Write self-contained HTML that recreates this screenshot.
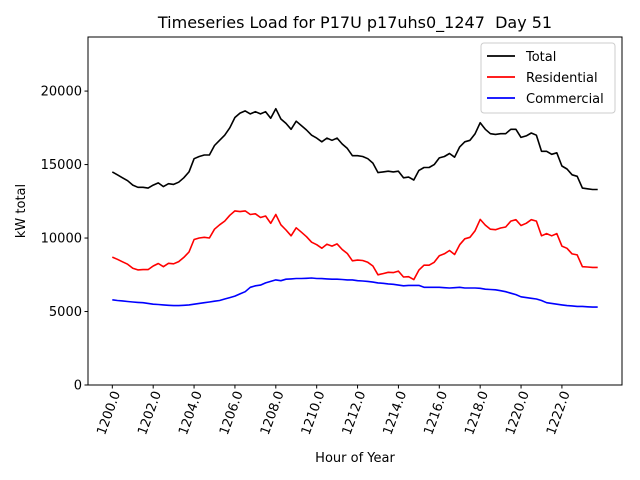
<!DOCTYPE html>
<html><head><meta charset="utf-8"><style>body{margin:0;background:#fff}svg{display:block;font-family:"DejaVu Sans","Liberation Sans",sans-serif}</style></head>
<body>
<svg id="c" width="640" height="480"></svg>
<script>
const hoursStart = 1200, hoursStep = 0.25;
const totalValues = [14500,14300,14100,13900,13600,13450,13450,13400,13600,13750,13500,13700,13650,13800,14100,14500,
15400,15550,15650,15650,16300,16650,17000,17500,18200,18500,18650,18450,18600,18450,18600,18150,
18800,18100,17800,17400,17950,17650,17350,17000,16800,16550,16800,16650,16800,16400,16100,15600,
15600,15550,15400,15100,14450,14500,14550,14500,14550,14100,14150,13950,14600,14800,14800,15000,
15450,15550,15750,15500,16200,16550,16650,17100,17850,17400,17100,17050,17100,17100,17400,17400,
16850,16950,17150,17000,15900,15900,15700,15800,14900,14700,14300,14200,13400,13350,13300,13300];
const residentialValues = [8700,8550,8380,8220,7950,7830,7850,7850,8100,8270,8050,8280,8250,8400,8680,9050,
9900,10000,10050,10000,10600,10900,11150,11550,11850,11800,11850,11600,11650,11400,11500,11000,
11600,10900,10550,10150,10700,10400,10090,9720,9550,9310,9580,9450,9600,9220,8950,8450,
8500,8470,8350,8100,7500,7580,7670,7650,7750,7350,7370,7170,7820,8150,8150,8350,
8800,8930,9150,8880,9550,9950,10050,10500,11270,10880,10600,10570,10680,10750,11150,11250,
10850,11000,11250,11150,10150,10300,10150,10300,9450,9300,8920,8850,8050,8030,8000,8000];
const commercialValues = [5800,5750,5720,5680,5650,5620,5600,5550,5500,5480,5450,5420,5400,5400,5420,5450,
5500,5550,5600,5650,5700,5750,5850,5950,6050,6200,6350,6650,6750,6800,6950,7050,
7150,7100,7200,7220,7250,7250,7260,7280,7250,7240,7220,7200,7200,7180,7150,7150,
7100,7080,7050,7000,6950,6920,6880,6850,6800,6750,6780,6780,6780,6650,6650,6650,
6650,6620,6600,6620,6650,6600,6600,6600,6580,6520,6500,6480,6420,6350,6250,6150,
6000,5950,5900,5850,5750,5600,5550,5500,5450,5400,5380,5350,5350,5320,5300,5300];
const yTicks = [0,5000,10000,15000,20000];
const xTicks = [1200,1202,1204,1206,1208,1210,1212,1214,1216,1218,1220,1222];
const seriesNames = ["Total","Residential","Commercial"];

const L=88,R=622,T=37,B=385, X0=1198.81, X1=1224.94, Y1=23680;
const sx=v=>L+(v-X0)/(X1-X0)*(R-L);
const sy=v=>B-v/Y1*(B-T);
const svg=document.getElementById('c');
const NS='http://www.w3.org/2000/svg';
function mk(tag,attrs,parent){const e=document.createElementNS(NS,tag);for(const k in attrs)e.setAttribute(k,attrs[k]);(parent||svg).appendChild(e);return e;}

const t=mk('text',{x:355,y:28,'text-anchor':'middle','font-size':16,fill:'#000',style:'white-space:pre'});


t.textContent='Timeseries Load for P17U p17uhs0_1247  Day 51';

const colors=['#000','#f00','#00f'];
[totalValues,residentialValues,commercialValues].forEach((vals,si)=>{
  const pts=vals.map((v,i)=>sx(hoursStart+i*hoursStep).toFixed(1)+','+sy(v).toFixed(1)).join(' ');
  const p=mk('polyline',{points:pts,fill:'none',stroke:colors[si],'stroke-width':1.6,'stroke-linejoin':'round'});
  
  
});

const frame=mk('rect',{x:L,y:T,width:R-L,height:B-T,fill:'none',stroke:'#000','stroke-width':1});



yTicks.forEach(v=>{
  const y=sy(v);
  mk('line',{x1:L-3.5,x2:L,y1:y,y2:y,stroke:'#000'});
  const tx=mk('text',{x:L-6,y:y+4.5,'text-anchor':'end','font-size':13});
  
  
  tx.textContent=v;
});
xTicks.forEach(v=>{
  const x=sx(v);
  mk('line',{x1:x,x2:x,y1:B,y2:B+3.5,stroke:'#000'});
  const ax=x+8, ay=B+8;
  const tx=mk('text',{x:ax,y:ay,'text-anchor':'end','font-size':13,transform:`rotate(-70 ${ax} ${ay})`});
  
  
  tx.textContent=v.toFixed(1);
});

const xl=mk('text',{x:355,y:462,'text-anchor':'middle','font-size':13});


xl.textContent='Hour of Year';
const yl=mk('text',{x:25,y:211,'text-anchor':'middle','font-size':13,transform:'rotate(-90 25 211)'});


yl.textContent='kW total';

const lg=mk('g',{});


mk('rect',{x:481,y:43,width:134,height:70,rx:3,fill:'#fff',stroke:'#ccc'},lg);
seriesNames.forEach((n,i)=>{
  const y=56+i*21;
  const e=mk('g',{},lg);
  
  
  mk('line',{x1:487,x2:515,y1:y,y2:y,stroke:colors[i],'stroke-width':1.8},e);
  const tx=mk('text',{x:526,y:y+5,'font-size':13},e);
  tx.textContent=n;
});
</script>
</body></html>
